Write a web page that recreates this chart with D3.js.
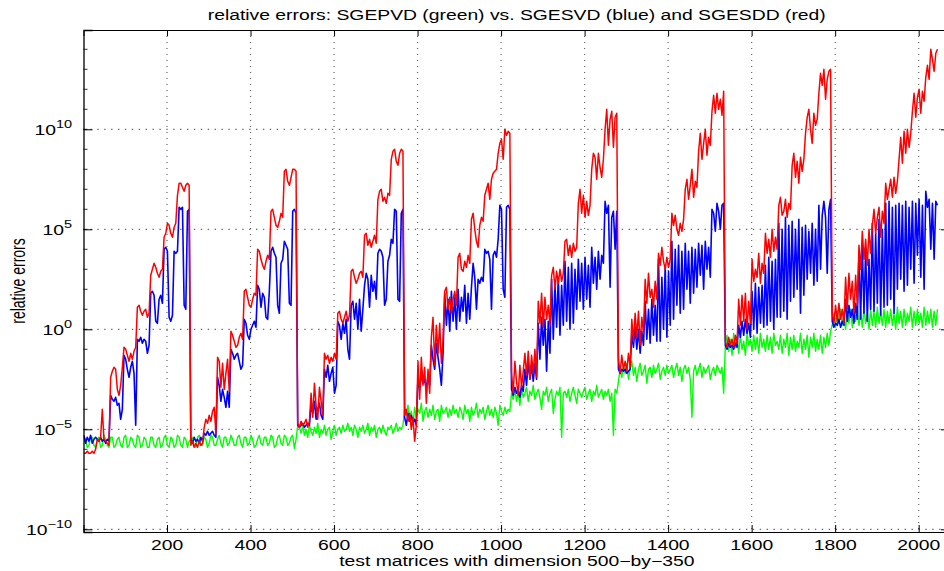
<!DOCTYPE html>
<html>
<head>
<meta charset="utf-8">
<script src="https://cdnjs.cloudflare.com/ajax/libs/d3/7.8.5/d3.min.js"></script>
<style>
  body { margin: 0; background: #fff; }
  svg { display: block; font-family: "Liberation Sans", Arial, Helvetica, sans-serif; }
</style>
</head>
<body>
<svg id="chart" width="944" height="571"></svg>
<script>
// log10 of the relative errors: 8 blocks of 256 test matrices, read every 4th matrix (64 per block)
var testIndex = d3.range(1, 2049, 4);

var greenLog = [
  // block 1
  -5.4,-5.5,-5.9,-5.8,-5.4,-5.4,-5.8,-5.9,-5.5,-5.4,-5.9,-5.8,-5.3,-5.5,-5.8,-5.9,-5.4,-5.4,-5.9,-5.8,-5.5,-5.4,-5.8,-5.9,-5.4,-5.3,-5.9,-5.8,-5.4,-5.5,-5.8,-5.9,
  -5.3,-5.4,-5.9,-5.8,-5.4,-5.5,-5.9,-5.9,-5.4,-5.4,-5.8,-5.9,-5.5,-5.4,-5.9,-5.8,-5.4,-5.3,-5.8,-5.9,-5.4,-5.5,-5.9,-5.8,-5.3,-5.4,-5.8,-5.9,-5.4,-5.5,-5.9,-5.6,
  // block 2
  -5.5,-5.4,-5.8,-5.9,-5.4,-5.3,-5.8,-5.8,-5.4,-5.5,-5.9,-5.7,-5.3,-5.4,-5.8,-5.8,-5.5,-5.3,-5.7,-5.9,-5.4,-5.4,-5.8,-5.7,-5.3,-5.5,-5.8,-5.8,-5.4,-5.3,-5.7,-5.9,
  -5.4,-5.4,-5.8,-5.7,-5.3,-5.5,-5.9,-5.8,-5.5,-5.3,-5.7,-5.8,-5.4,-5.4,-5.8,-5.7,-5.3,-5.4,-5.9,-5.8,-5.4,-5.3,-5.7,-5.8,-5.3,-5.4,-5.8,-5.7,-5.4,-5.3,-5.95,-5.5,
  // block 3
  -4.8,-4.9,-5.2,-4.8,-5.3,-5.0,-5.4,-4.8,-5.1,-5.3,-4.9,-5.2,-4.7,-5.4,-5.0,-5.2,-4.8,-5.3,-5.0,-4.9,-5.5,-5.1,-4.8,-5.3,-5.0,-4.9,-5.2,-4.8,-5.1,-5.0,-4.7,-5.1,
  -4.9,-5.3,-4.8,-5.0,-5.4,-4.9,-5.1,-4.8,-5.2,-5.0,-4.7,-5.3,-4.9,-5.1,-4.8,-5.4,-5.0,-4.9,-5.2,-4.8,-5.1,-5.3,-4.9,-5.0,-4.8,-5.2,-5.0,-4.7,-5.1,-4.9,-5.0,-4.8,
  // block 4
  -4.0,-4.3,-3.8,-4.5,-4.1,-4.8,-3.9,-4.4,-4.0,-4.2,-3.7,-4.6,-4.1,-3.9,-4.4,-4.0,-4.3,-3.8,-4.5,-4.1,-4.0,-4.6,-3.8,-4.2,-4.1,-3.9,-4.4,-4.0,-4.3,-3.8,-4.2,-4.0,
  -4.4,-3.9,-4.1,-4.5,-3.8,-4.2,-4.0,-4.6,-3.9,-4.3,-4.1,-3.7,-4.4,-4.0,-4.2,-3.9,-4.5,-4.1,-3.8,-4.3,-4.0,-4.4,-3.9,-4.2,-4.8,-3.8,-4.1,-4.3,-3.9,-4.2,-4.0,-4.1,
  // block 5
  -3.2,-3.5,-3.0,-3.6,-3.1,-3.8,-3.0,-3.4,-3.2,-2.9,-3.6,-3.1,-3.3,-2.8,-3.5,-3.2,-3.0,-3.4,-4.0,-3.1,-3.3,-2.9,-3.6,-3.2,-3.0,-4.2,-3.5,-3.1,-3.3,-2.9,-5.4,-3.2,
  -3.1,-3.4,-3.0,-3.6,-3.2,-2.9,-3.3,-3.7,-3.0,-3.2,-3.4,-3.1,-2.9,-3.5,-3.2,-3.0,-3.6,-3.1,-3.3,-2.8,-3.4,-3.2,-3.0,-3.5,-3.1,-3.3,-3.0,-3.6,-3.2,-5.3,-3.0,-3.2,
  // block 6
  -2.6,-2.0,-2.4,-1.8,-2.2,-1.7,-2.5,-2.0,-1.6,-2.3,-1.9,-2.6,-2.0,-1.7,-2.3,-2.1,-1.8,-2.7,-2.0,-1.9,-2.4,-1.8,-2.2,-2.0,-1.7,-2.5,-2.1,-1.9,-2.3,-1.8,-2.2,-2.0,
  -1.8,-2.4,-2.0,-1.7,-2.3,-1.9,-2.6,-2.0,-1.8,-2.2,-1.9,-2.5,-4.4,-2.1,-1.8,-2.3,-2.0,-1.7,-2.4,-1.9,-2.2,-2.0,-1.8,-2.5,-2.1,-1.9,-2.3,-1.8,-2.0,-2.2,-1.9,-3.2,
  // block 7
  -0.8,-0.3,-1.1,-0.5,-1.3,-0.2,-0.9,-0.4,-1.2,-0.3,-1.0,-0.6,-1.3,-0.2,-0.8,-0.5,-1.1,-0.3,-1.0,-0.4,-1.2,-0.2,-0.9,-0.5,-1.1,-0.3,-1.0,-0.4,-1.2,-0.2,-0.8,-0.6,
  -1.0,-0.3,-1.2,-0.5,-0.9,-0.2,-1.3,-0.4,-1.0,-0.3,-1.1,-0.6,-0.9,-0.2,-1.2,-0.5,-1.0,-0.3,-1.4,-0.4,-0.9,-0.2,-1.1,-0.5,-1.0,-0.3,-1.2,-0.4,-0.9,-0.2,-0.8,-0.1,
  // block 8
   0.2, 0.8, 0.1, 0.9, 0.3, 1.0, 0.2, 0.7, 0.0, 0.9, 0.3, 1.0, 0.1, 0.8, 0.4, 1.1, 0.2, 0.9, 0.1, 1.0, 0.3, 0.8, 0.0, 1.0, 0.2, 0.9, 0.1, 1.1, 0.3, 0.9, 0.2, 1.0,
   0.1, 0.9, 0.3, 1.0, 0.2, 0.8, 0.0, 1.1, 0.3, 0.9, 0.1, 1.0, 0.2, 0.8, 0.4, 1.1, 0.1, 0.9, 0.2, 1.0, 0.3, 0.8, 0.1, 1.1, 0.2, 0.9, 0.3, 1.0, 0.1, 0.9, 0.2, 1.0
];

var blueLog = [
  // block 1
  -5.3,-5.7,-5.4,-5.6,-5.3,-5.7,-5.5,-5.4, -5.5,-5.6,-5.4,-5.6,-5.5,-5.7,-5.5,-5.6, -3.3,-3.5,-3.6,-3.4,-3.8,-3.7,-4.5,-4.0, -1.3,-1.5,-2.0,-2.4,-1.9,-1.6,-2.2,-4.8,
  -0.5,-0.6,-0.4,-0.7,-0.5,-0.6,-1.2,-0.8,  1.8, 1.9, 1.7, 0.4, 0.3, 1.5, 1.7, 1.3,  4.0, 4.1, 3.9, 0.6, 0.4, 0.7, 3.9, 3.8,  3.9, 6.1, 6.0, 6.1, 1.2, 1.0, 5.9, 6.0,
  // block 2
  -5.5,-5.7,-5.4,-5.6,-5.5,-5.7,-5.4,-5.6, -5.2,-5.3,-5.1,-5.3,-5.2,-5.1,-5.3,-5.4, -2.4,-2.8,-3.6,-3.0,-3.4,-3.9,-3.1,-3.9, -1.0,-1.2,-1.5,-1.3,-1.2,-1.6,-2.0,-1.8,
   0.5, 0.3,-0.3,-0.5, 0.0, 0.2, 0.4, 0.1,  2.2, 2.0, 1.1, 1.8, 1.6, 0.6, 0.5, 1.9,  3.9, 4.1, 3.8, 3.6, 1.2, 0.8, 3.3, 3.5,  4.4, 4.2, 4.0, 1.3, 1.2, 5.9, 6.0, 5.8,
  // block 3
  -4.8,-4.9,-4.8,-4.7,-4.9,-4.8,-4.7,-4.8, -3.8,-4.2,-3.6,-4.5,-4.0,-3.7,-4.3,-4.5, -2.0,-2.4,-1.8,-2.6,-2.2,-1.9,-3.2,-2.8,  0.4, 0.2,-0.5, 0.3,-0.2, 0.5,-1.0,-1.5,
   1.2, 1.4, 0.5, 1.3, 0.0, 1.5,-0.1, 1.0,  2.2, 2.8, 2.5, 1.1, 2.7, 1.9, 2.4, 1.5,  3.8, 4.0, 3.9, 3.6, 1.2, 1.5, 3.4, 3.7,  4.5, 4.3, 6.0, 5.9, 1.5, 1.4, 5.8, 6.0,
  // block 4
  -4.4,-4.8,-4.2,-4.6,-4.3,-4.7,-4.5,-4.8, -2.4,-3.0,-2.2,-2.7,-2.5,-3.0,-2.3,-2.8, -0.8,-1.5,-2.0,-0.7,-1.4,-2.0,-2.8,-1.2,  1.8, 0.2, 1.5,-0.1, 1.9, 0.4, 1.6, 0.0,
   2.0, 0.4, 1.6, 0.9, 2.2, 0.3, 1.8, 0.5,  2.1, 3.3, 2.6, 1.0, 2.5, 2.3, 2.6, 2.4,  4.0, 3.8, 3.9, 3.5, 1.0, 3.7, 3.9, 3.6,  4.5, 6.2, 6.0, 2.0, 1.6, 6.1, 6.2, 6.0,
  // block 5
  -3.0,-3.3,-2.9,-3.2,-3.0,-3.4,-2.8,-3.1, -2.0,-2.8,-1.6,-2.5,-1.8,-2.6,-1.7,-2.5,  0.3,-1.5, 0.6,-0.8, 0.5,-2.1, 0.4,-1.2,  2.5,-0.5, 2.3, 0.1, 2.6,-0.3, 2.2, 0.2,
   3.4, 0.4, 3.1, 0.0, 3.3, 0.3, 3.0, 1.0,  3.5, 1.4, 3.3, 1.0, 3.6, 1.5, 3.2, 1.1,  4.1, 2.3, 3.6, 2.0, 3.9, 2.5, 3.7, 3.3,  6.4, 5.8, 6.2, 2.1, 5.6, 5.9, 4.0, 5.9,
  // block 6
  -2.0,-2.2,-2.0,-2.1,-2.0,-2.2,-2.1,-2.0, -0.2,-0.9, 0.1,-1.0, 0.0,-1.2,-0.1,-0.8,  1.4,-0.5, 1.0,-0.7, 1.5,-0.3, 1.2,-0.6,  3.5,-0.6, 2.6, 0.0, 3.2,-0.4, 2.9, 0.2,
   4.4, 0.5, 4.0, 1.2, 4.2, 0.8, 3.9, 1.0,  4.3, 2.0, 3.9, 1.3, 4.1, 1.8, 4.0, 2.1,  4.3, 2.7, 4.2, 2.0, 4.4, 3.0, 4.1, 2.6,  6.0, 5.8, 4.9, 6.3, 5.9, 5.0, 6.2, 6.3,
  // block 7
  -0.8,-1.0,-0.7,-0.9,-0.8,-1.0,-0.7,-0.9,  0.2,-0.4, 0.4,-0.3, 0.5,-0.2, 0.3,-0.4,  1.9, 0.0, 2.3,-0.2, 2.1, 0.3, 2.2, 0.1,  3.2, 0.2, 3.6, 0.4, 3.4, 0.0, 3.5, 0.6,
   5.3, 0.6, 5.0, 0.9, 5.6, 0.5, 5.2, 1.4,  5.4, 1.6, 5.0, 2.0, 5.5, 0.8, 5.1, 1.7,  5.2, 2.5, 4.9, 2.8, 5.3, 2.2, 5.0, 2.4,  6.2, 3.0, 5.7, 6.4, 5.6, 2.8, 6.0, 6.5,
  // block 8
   0.4, 0.1, 0.3, 0.2, 0.5, 0.1, 0.4, 0.2,  1.5, 0.4, 1.2, 0.6, 1.0, 0.3, 1.3, 0.5,  3.8, 0.5, 4.2, 0.8, 4.0, 0.4, 3.5, 1.0,  5.3, 0.9, 4.8, 1.3, 5.5, 0.7, 5.0, 1.1,
   6.3, 1.2, 6.4, 1.5, 6.1, 0.8, 6.2, 2.0,  6.3, 2.5, 6.2, 1.9, 6.4, 2.2, 6.1, 3.0,  6.4, 2.3, 6.3, 3.7, 6.5, 2.6, 6.2, 2.0,  6.9, 6.1, 6.5, 4.0, 6.3, 3.5, 6.4, 6.2
];

var redLog = [
  // block 1
  -6.2,-6.2,-6.1,-6.2,-6.2,-6.1,-6.2,-6.0, -5.5,-5.6,-5.4,-4.0,-5.5,-5.6,-5.7,-5.8, -2.4,-2.1,-1.9,-2.0,-3.0,-3.3,-2.8,-1.9, -0.9,-1.0,-1.3,-1.6,-1.2,-1.5,-1.1,-0.9,
   1.1, 1.2, 0.9, 0.7, 0.9, 1.0, 0.6, 0.8,  2.7, 3.0, 3.3, 3.1, 2.8, 2.6, 2.9, 3.0,  4.6, 4.8, 5.3, 5.2, 4.8, 4.6, 5.1, 5.3,  6.7, 7.3, 7.3, 7.1, 6.9, 7.2, 7.3, 7.2,
  // block 2
  -5.8,-5.6,-5.9,-5.7,-5.9,-5.6,-5.8,-5.7, -4.9,-4.5,-4.7,-4.3,-4.6,-4.1,-3.9,-5.2, -1.4,-1.6,-2.9,-1.7,-3.0,-2.2,-1.5,-3.1, -0.1,-0.3,-0.6,-0.9,-0.8,-0.4,-0.2,-0.5,
   1.9, 2.0, 1.6, 1.2, 1.1, 1.5, 1.8, 1.7,  4.0, 3.9, 3.5, 3.2, 3.0, 3.4, 3.7, 3.5,  5.9, 6.0, 5.6, 5.2, 5.1, 5.4, 5.8, 5.6,  7.9, 8.0, 7.4, 7.2, 7.6, 8.0, 8.0, 7.9,
  // block 3
  -4.7,-4.9,-4.6,-4.8,-4.7,-4.5,-4.9,-4.6, -3.2,-4.4,-2.7,-3.8,-4.5,-2.9,-3.6,-4.3, -1.2,-1.5,-1.3,-1.7,-1.4,-1.6,-1.2,-1.5,  0.8, 0.9, 0.5, 0.3, 0.6, 0.9, 0.4, 0.7,
   2.9, 3.0, 2.6, 2.3, 2.5, 2.8, 2.9, 2.6,  4.7, 4.8, 4.2, 4.5, 4.1, 4.4, 4.7, 4.3,  6.5, 6.9, 7.0, 6.4, 6.6, 6.3, 6.8, 6.7,  8.5, 8.9, 9.0, 8.4, 8.2, 8.8, 9.0, 8.9,
  // block 4
  -4.3,-4.0,-4.6,-4.2,-5.0,-4.4,-5.6,-4.8, -1.6,-3.5,-1.4,-2.8,-1.9,-3.7,-2.0,-3.2, -0.4, 0.6,-1.8, 0.2,-1.2, 0.3,-1.7,-0.5,  1.9, 2.1, 1.0, 1.6, 0.8, 1.5, 1.9, 1.2,
   3.6, 3.8, 3.0, 2.9, 3.4, 3.1, 3.7, 3.3,  5.5, 5.8, 5.0, 4.4, 4.1, 5.2, 5.6, 5.4,  6.7, 7.0, 7.3, 6.5, 7.5, 7.8, 7.9, 8.0,  8.8, 9.3, 9.5, 8.5,10.0, 9.7, 9.9, 9.8,
  // block 5
  -2.2,-3.2,-1.6,-2.6,-3.3,-1.8,-2.9,-2.1, -1.2,-2.3,-1.1,-2.5,-1.3,-2.2,-1.0,-2.4,  1.4, 0.3, 1.8, 0.1, 1.6, 0.5, 1.2, 0.2,  2.7, 3.1, 2.0, 2.9, 2.3, 3.0, 2.4, 2.8,
   4.4, 4.5, 3.7, 4.2, 3.6, 4.3, 3.9, 4.1,  6.3, 7.0, 5.8, 6.7, 5.6, 6.4, 5.7, 6.2,  8.0, 8.8, 8.6, 7.5, 8.8, 8.1, 7.6, 8.5, 10.0,11.0, 9.2,10.5,10.9, 9.1,10.6,10.8,
  // block 6
  -1.5,-2.2,-1.3,-2.0,-1.6,-2.1,-1.2,-1.9,  0.5,-0.6, 0.8,-0.4, 0.9,-0.8, 0.6,-0.2,  2.5, 1.3, 2.8, 1.6, 2.0, 1.1, 2.4, 1.5,  3.8, 3.2, 4.1, 3.4, 3.0, 3.6, 3.1, 3.5,
   5.8, 5.2, 5.7, 5.0, 4.7, 5.3, 4.9, 5.5,  7.0, 7.5, 6.5, 7.2, 8.0, 6.6, 7.4, 7.1,  8.9, 9.8, 8.5, 9.3,10.0, 8.7, 9.6, 9.2, 10.9,11.7,10.8,11.8,11.0,11.5,10.7,11.9,
  // block 7
  -0.6,-0.9,-0.4,-0.8,-0.5,-0.9,-0.3,-0.7,  1.5, 0.2, 1.7, 0.4, 1.8, 0.0, 1.4, 0.3,  3.5, 2.4, 3.0, 2.6, 3.8, 2.3, 3.3, 2.8,  4.8, 3.8, 4.5, 3.6, 5.0, 3.9, 4.6, 4.0,
   6.2, 6.6, 5.7, 5.9, 6.5, 5.6, 6.3, 6.0,  8.2, 8.8, 7.6, 8.4, 7.3, 8.6, 7.9, 8.5,  9.8,10.6,11.0,10.0, 9.3,10.8,10.2,10.5, 11.8,12.8,12.2,13.0,11.5,12.5,12.9,13.0,
  // block 8
   0.8, 0.3, 1.2, 0.4, 1.3, 0.5, 1.0, 0.3,  2.6, 1.0, 2.8, 1.5, 2.4, 0.8, 2.7, 1.2,  4.2, 3.0, 4.9, 3.5, 4.5, 3.2, 5.0, 3.8,  5.2, 6.0, 4.8, 5.6, 6.1, 4.6, 5.9, 5.3,
   7.3, 6.5, 7.0, 7.5, 6.6, 7.6, 6.8, 7.4,  8.5, 9.6, 8.3, 9.9, 8.8,10.0, 9.1, 9.8, 10.9,11.8,10.6,11.6,12.0,10.8,11.9,11.4, 12.6,13.2,12.5,14.0,13.5,12.9,13.8,14.0
];

var xTicks = [200, 400, 600, 800, 1000, 1200, 1400, 1600, 1800, 2000];
var yTickExp = [-10, -5, 0, 5, 10];
var yMinorExp = d3.range(-10, 15);

var titleText = "relative errors: SGEPVD (green) vs. SGESVD (blue) and SGESDD (red)";
var xLabelText = "test matrices with dimension 500\u2212by\u2212350";
var yLabelText = "relative errors";

function drawChart() {
  var svg = d3.select("#chart");
  var stretch = 1.38;   // the picture is wider than it was drawn
  var plotL = 83.5, plotR = 950, plotT = 30, plotB = 532;

  var x = d3.scaleLinear().domain([0, 2075]).range([plotL, plotR]);
  var y = d3.scaleLog().domain([Math.pow(10, -10.135), Math.pow(10, 14.965)]).range([plotB, plotT]);
  var yExp = function(e) { return y(Math.pow(10, e)); };

  svg.append("defs").append("clipPath").attr("id", "plotclip")
    .append("rect").attr("x", plotL).attr("y", plotT).attr("width", plotR - plotL).attr("height", plotB - plotT);

  // dotted grid
  var grid = svg.append("g").attr("class", "grid");
  grid.selectAll(".vgrid").data(xTicks).enter().append("line")
      .attr("x1", function(d) { return x(d); }).attr("x2", function(d) { return x(d); })
      .attr("y1", plotT).attr("y2", plotB)
      .attr("stroke", "#666").attr("stroke-width", 1.2).attr("stroke-dasharray", "1,5");
  grid.selectAll(".hgrid").data(yTickExp).enter().append("line")
      .attr("x1", plotL).attr("x2", plotR)
      .attr("y1", yExp).attr("y2", yExp)
      .attr("stroke", "#444").attr("stroke-width", 1).attr("stroke-dasharray", "1.4,5.5");

  // series
  var line = d3.line()
      .x(function(d, i) { return x(testIndex[i]); })
      .y(function(d) { return yExp(d); });

  var plot = svg.append("g").attr("clip-path", "url(#plotclip)");
  [[greenLog, "#00ff00", 1.4], [blueLog, "#0000ff", 1.6], [redLog, "#ff0000", 1.5]].forEach(function(s) {
    plot.append("path")
        .datum(s[0])
        .attr("fill", "none")
        .attr("stroke", s[1])
        .attr("stroke-width", s[2])
        .attr("stroke-linejoin", "round")
        .attr("d", line);
  });

  // axes, ticks inside like MATLAB
  var yMajor = yTickExp.map(function(e) { return Math.pow(10, e); });
  svg.append("g")
      .attr("transform", "translate(0," + plotB + ")")
      .call(d3.axisBottom(x).tickValues(xTicks).tickSize(-7).tickFormat(""))
      .call(function(g) { g.select(".domain").attr("stroke", "#000"); });
  svg.append("g")
      .attr("transform", "translate(0," + plotT + ")")
      .call(d3.axisTop(x).tickValues(xTicks).tickSize(-6).tickFormat(""))
      .call(function(g) { g.select(".domain").attr("stroke", "#000"); });
  svg.append("g")
      .attr("transform", "translate(" + plotL + ",0)")
      .call(d3.axisLeft(y).tickValues(yMajor).tickSize(-9).tickFormat(""))
      .call(function(g) { g.select(".domain").attr("stroke", "#000").attr("stroke-width", 1.3); });
  svg.append("g")
      .attr("transform", "translate(" + plotR + ",0)")
      .call(d3.axisRight(y).tickValues(yMajor).tickSize(-9).tickFormat(""));

  // minor decade ticks
  svg.append("g").selectAll("line").data(yMinorExp).enter().append("line")
      .attr("x1", plotL).attr("x2", plotL + 4)
      .attr("y1", yExp).attr("y2", yExp)
      .attr("stroke", "#000").attr("stroke-width", 0.8);

  // x tick labels
  svg.append("g").selectAll("text").data(xTicks).enter().append("text")
      .attr("transform", function(d) { return "translate(" + x(d) + ",550) scale(" + stretch + ",1)"; })
      .attr("text-anchor", "middle")
      .attr("font-size", 14)
      .text(function(d) { return d; });

  // y tick labels 10^e
  var yl = svg.append("g").selectAll("text").data(yTickExp).enter().append("text")
      .attr("transform", function(d) { return "translate(72," + (yExp(d) + 5.7) + ") scale(" + stretch + ",1)"; })
      .attr("text-anchor", "end")
      .attr("font-size", 14);
  yl.append("tspan").text("10");
  yl.append("tspan").attr("dy", -7.3).attr("font-size", 10.5)
      .text(function(d) { return d < 0 ? "\u2212" + Math.abs(d) : d; });

  // title and axis labels
  svg.append("text")
      .attr("transform", "translate(" + ((plotL + plotR) / 2) + ",19.5) scale(" + stretch + ",1)")
      .attr("text-anchor", "middle").attr("font-size", 14)
      .text(titleText);
  svg.append("text")
      .attr("transform", "translate(" + ((plotL + plotR) / 2) + ",566) scale(" + stretch + ",1)")
      .attr("text-anchor", "middle").attr("font-size", 14)
      .text(xLabelText);
  svg.append("text")
      .attr("transform", "translate(25," + ((plotT + plotB) / 2) + ") scale(" + stretch + ",1) rotate(-90)")
      .attr("text-anchor", "middle").attr("font-size", 14)
      .text(yLabelText);
}

drawChart();
</script>
</body>
</html>
